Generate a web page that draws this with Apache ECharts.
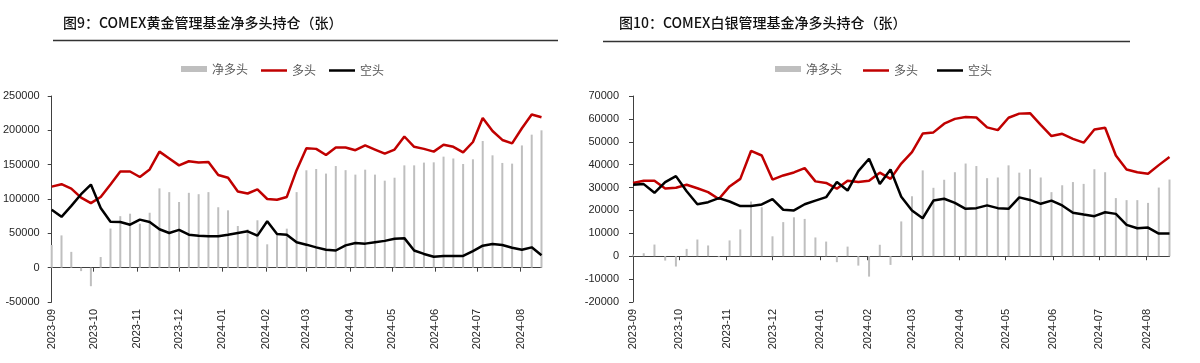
<!DOCTYPE html>
<html><head><meta charset="utf-8">
<script src="https://cdn.jsdelivr.net/npm/echarts@6/dist/echarts.min.js"></script>
<style>html,body{margin:0;padding:0;background:#fff}#c{width:1200px;height:363px}</style>
</head><body><div id="c"></div>
<script>
// Weekly report dates (CFTC)
const dates = ['2023-09-05','2023-09-12','2023-09-19','2023-09-26','2023-10-03','2023-10-10','2023-10-17','2023-10-24','2023-10-31',
'2023-11-07','2023-11-14','2023-11-21','2023-11-28','2023-12-05','2023-12-12','2023-12-19','2023-12-26',
'2024-01-02','2024-01-09','2024-01-16','2024-01-23','2024-01-30','2024-02-06','2024-02-13','2024-02-20','2024-02-27',
'2024-03-05','2024-03-12','2024-03-19','2024-03-26','2024-04-02','2024-04-09','2024-04-16','2024-04-23','2024-04-30',
'2024-05-07','2024-05-14','2024-05-21','2024-05-28','2024-06-04','2024-06-11','2024-06-18','2024-06-25',
'2024-07-02','2024-07-09','2024-07-16','2024-07-23','2024-07-30','2024-08-06','2024-08-13','2024-08-20'];
// axis tick dates (labels shown as YYYY-MM)
const tickDates = ['2023-09-05','2023-10-05','2023-11-05','2023-12-05','2024-01-05','2024-02-05','2024-03-05','2024-04-05','2024-05-05','2024-06-05','2024-07-05','2024-08-05'];

// Gold (COMEX) managed money
const goldNet = [33000,47000,23000,-5000,-27000,15500,57000,75000,78600,64000,
80000,115500,110000,95600,109000,107000,110000,88000,83500,60700,
56000,69000,34000,49500,56800,110000,141800,143700,137000,148000,
142000,135500,142700,135500,126700,131000,149000,149000,153000,153400,
161700,159000,151000,157800,184500,163600,152500,151500,178000,193700,200000];
const goldLong = [118000,121500,115000,102000,94000,103000,121000,140000,140000,132000,
143000,169000,159000,149000,155000,153000,154000,135000,131000,111000,
108000,114000,100000,99000,103000,142000,174000,173000,164000,175000,
175000,171000,178000,172000,166000,172000,191000,176000,173000,169000,
179000,176000,168000,183000,218000,199000,186000,181000,203000,223000,219000];
const goldShort = [84500,74000,90000,107000,121000,87000,67000,66500,62600,70000,
66500,56000,50500,55000,48000,46600,45600,45600,48000,50500,
53000,46600,67500,49000,48000,37000,33500,29600,26000,25000,
32500,36000,35000,37000,39000,42000,43000,25000,20000,16000,
17000,17000,17000,24000,32000,34500,33000,29000,26000,29600,18000];

// Silver (COMEX) managed money
const silverNet = [800,1300,5100,-1900,-4500,3200,7300,4700,-400,6900,
11700,23900,21400,8700,14900,17000,16300,8200,6400,-2600,
4200,-4100,-8900,5000,-3800,15200,26200,37500,29900,33400,
36700,40500,39400,34100,34400,39700,36500,38000,34400,28000,
31000,32400,31600,38000,36700,25400,24500,24500,23300,30000,33500];
const silverLong = [32000,33000,33000,29600,29900,31200,29700,28000,25000,30500,
33800,46000,44000,33500,35300,36600,38500,32700,32000,29500,
33000,32400,33000,36500,33800,40500,45500,53600,54100,57900,
60000,60800,60600,56300,55100,60500,62300,62500,57400,52500,
53500,51300,49600,55400,56100,44000,37900,36700,36000,39800,43400];
const silverShort = [31200,31500,27700,32400,35000,28400,22700,23600,25400,23900,
21900,21900,22600,24900,20300,20000,22700,24300,25800,32400,
28700,37200,42600,31600,37900,26000,20000,16600,24300,25100,
23300,20700,21000,22200,21000,20700,25700,24600,22900,24300,
22200,19000,18200,17500,19200,18500,13700,12200,12500,9900,9900];

const titles = ['图9：COMEX黄金管理基金净多头持仓（张）','图10：COMEX白银管理基金净多头持仓（张）'];
const names = ['净多头','多头','空头'];

const ts = d => Date.UTC(+d.slice(0,4), +d.slice(5,7)-1, +d.slice(8,10));
const xs = dates.map(ts);
const tickVals = tickDates.map(ts);
const pair = arr => arr.map((v,i)=>[xs[i], v]);
const fmt = v => { const d = new Date(v); return d.getUTCFullYear() + '-' + String(d.getUTCMonth()+1).padStart(2,'0'); };

const FONT = '"Liberation Sans", Arial, sans-serif';
const AX = '#404040';
const grids = [{left:50, top:96, width:491.5, height:206},{left:633, top:96, width:536.5, height:206}];

function xAxesFor(g){
  return [{
    type:'value', gridIndex:g, min:xs[0], max:xs[xs.length-1],
    axisLine:{show:true, onZero:true, lineStyle:{color:AX, width:1}},
    axisTick:{show:true, customValues:tickVals, length:4, lineStyle:{color:AX}},
    axisLabel:{show:false}, splitLine:{show:false}
  },{
    type:'value', gridIndex:g, position:'bottom', min:xs[0], max:xs[xs.length-1],
    axisLine:{show:false, onZero:false}, axisTick:{show:false},
    axisLabel:{customValues:tickVals, rotate:90, formatter:fmt, fontSize:11, color:'#262626', fontFamily:FONT, margin:7},
    splitLine:{show:false}
  }];
}
function yAxisFor(g, min, max, step, margin){
  return {type:'value', gridIndex:g, min:min, max:max, interval:step,
    axisLine:{show:true, onZero:false, lineStyle:{color:AX, width:1}},
    axisTick:{show:true, length:4, lineStyle:{color:AX}},
    axisLabel:{fontSize:11, color:'#262626', fontFamily:FONT, margin:margin, formatter: v => String(v)},
    splitLine:{show:false}};
}
function seriesFor(g, net, long, short){
  return [
    {name:names[0], type:'bar', xAxisIndex:g*2, yAxisIndex:g, data:pair(net), barWidth:2, itemStyle:{color:'#BFBFBF'}, silent:true},
    {name:names[1], type:'line', xAxisIndex:g*2, yAxisIndex:g, data:pair(long), symbol:'none', lineStyle:{color:'#C00000', width:2.5}, itemStyle:{color:'#C00000'}, silent:true},
    {name:names[2], type:'line', xAxisIndex:g*2, yAxisIndex:g, data:pair(short), symbol:'none', lineStyle:{color:'#000000', width:2.5}, itemStyle:{color:'#000000'}, silent:true}
  ];
}
const legTxt = {fontSize:12, color:'#595959', fontFamily:'Noto Sans CJK SC'};
function legendsFor(lefts, top){
  return [
    {left:lefts[0], top:top, itemWidth:26, itemHeight:6, itemGap:0, data:[{name:names[0], icon:'rect'}], textStyle:legTxt, selectedMode:false},
    {left:lefts[1], top:top+1.5, itemWidth:26, itemHeight:2.5, itemGap:0, data:[{name:names[1], icon:'rect'}], textStyle:legTxt, selectedMode:false},
    {left:lefts[2], top:top+1.5, itemWidth:26, itemHeight:2.5, itemGap:0, data:[{name:names[2], icon:'rect'}], textStyle:legTxt, selectedMode:false}
  ];
}

const chart = echarts.init(document.getElementById('c'), null, {renderer:'canvas'});
chart.setOption({
  animation:false,
  backgroundColor:'#fff',
  title:[
    {text:titles[0], left:58, top:11, textStyle:{fontSize:14, fontWeight:500, color:'#111', fontFamily:'Noto Sans CJK SC'}},
    {text:titles[1], left:614, top:11, textStyle:{fontSize:14, fontWeight:500, color:'#111', fontFamily:'Noto Sans CJK SC'}}
  ],
  legend: legendsFor([176,256,324], 58).concat(legendsFor([770,858,932], 58)),
  grid: grids,
  xAxis: xAxesFor(0).concat(xAxesFor(1)),
  yAxis: [yAxisFor(0,-50000,250000,50000,12), yAxisFor(1,-20000,70000,10000,14)],
  series: seriesFor(0, goldNet, goldLong, goldShort).concat(seriesFor(1, silverNet, silverLong, silverShort)),
  graphic:[
    {type:'line', shape:{x1:53, y1:40.5, x2:558, y2:40.5}, style:{stroke:'#333', lineWidth:1.5}},
    {type:'line', shape:{x1:603, y1:41.5, x2:1130, y2:41.5}, style:{stroke:'#333', lineWidth:1.5}}
  ]
});
</script></body></html>
